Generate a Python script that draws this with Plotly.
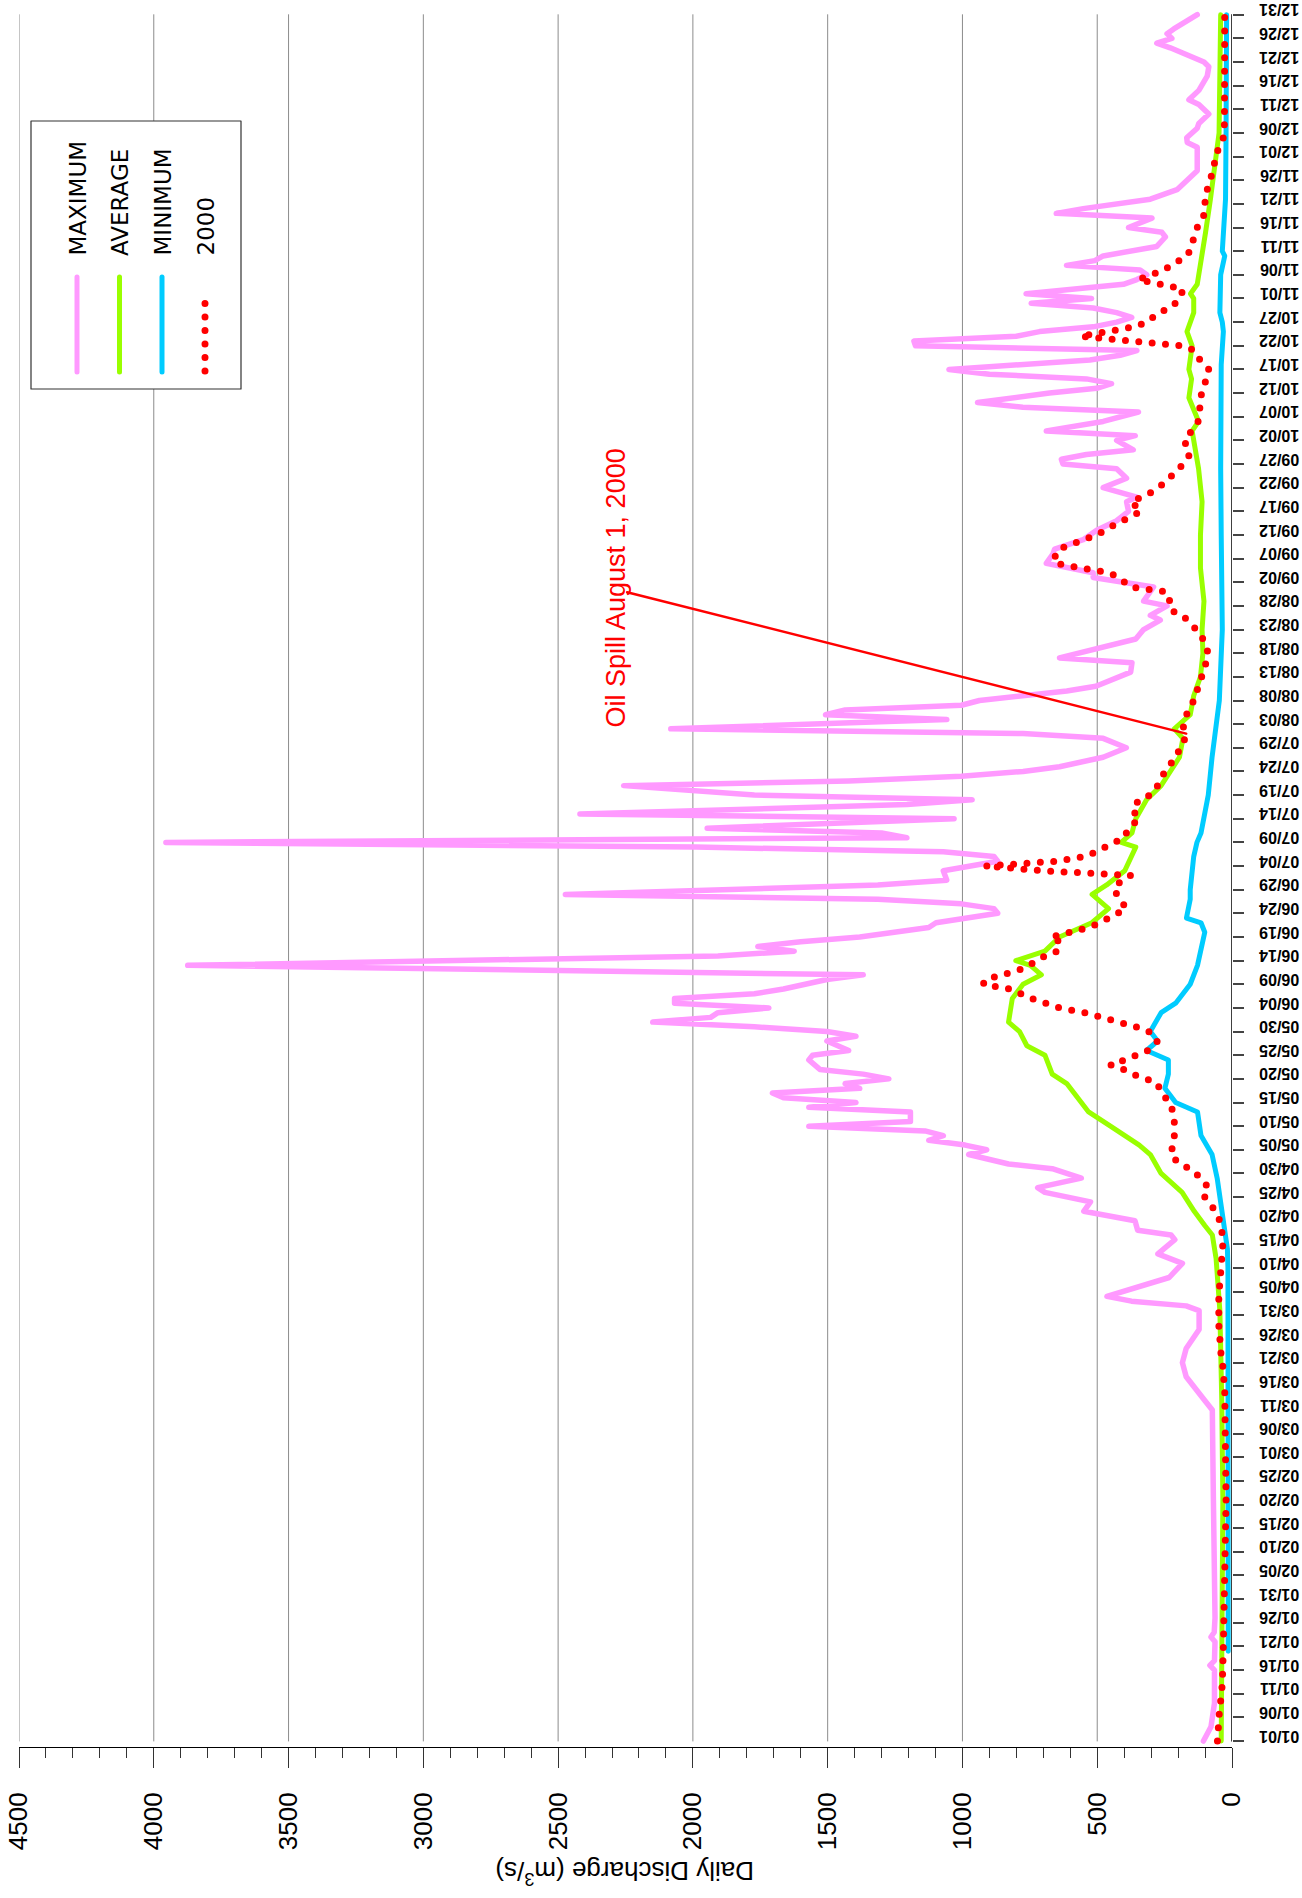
import pandas as pd
import plotly.graph_objects as go

START = pd.Timestamp("2000-01-01")  # 2000 is a leap year: day 0 = Jan 1, day 365 = Dec 31

# Daily discharge (m3/s), keyed by day of year
max_day = [0, 3, 8, 15, 16, 17, 21, 22, 23, 26, 51, 70, 72, 77, 80, 83, 87, 91, 92, 93,
           94, 96, 98, 101, 103, 106, 107, 108, 110, 112, 114, 116, 117, 119, 121, 122, 124, 125, 126, 127,
           128, 129, 130, 131, 133, 134, 135, 136, 137, 138, 139, 140, 141, 142, 144, 145, 146, 148, 149, 150,
           151, 152, 153, 154, 155, 156, 157, 158, 159, 161, 162, 164, 166, 167, 168, 169, 170, 172, 173, 175,
           176, 177, 178, 179, 181, 182, 184, 186, 187, 188, 189, 190, 191, 192, 193, 195, 196, 198, 199, 200,
           201, 202, 203, 204, 205, 206, 208, 210, 212, 213, 214, 216, 217, 218, 219, 220, 222, 223, 226, 228,
           229, 231, 233, 235, 237, 238, 240, 241, 244, 245, 246, 247, 248, 249, 251, 252, 254, 256, 258, 260,
           262, 263, 265, 266, 267, 269, 270, 271, 272, 273, 275, 276, 277, 279, 281, 282, 283, 285, 286, 287,
           288, 289, 290, 292, 293, 294, 295, 296, 297, 298, 299, 300, 301, 302, 303, 304, 305, 306, 308, 309,
           310, 311, 312, 313, 314, 316, 318, 319, 320, 322, 323, 324, 325, 326, 328, 331, 332, 337, 338, 339,
           341, 342, 344, 346, 347, 349, 352, 354, 355, 358, 359, 360, 361, 362, 364, 365]
max_q = [106, 78, 65, 65, 82, 65, 63, 78, 66, 63, 69, 73, 101, 170, 184, 170, 122, 122, 170, 373,
         464, 345, 233, 184, 275, 212, 226, 350, 360, 550, 525, 694, 721, 559, 667, 829, 977, 910, 990, 1125,
         1071, 1139, 1570, 1193, 1193, 1570, 1395, 1664, 1705, 1381, 1435, 1273, 1368, 1529, 1570, 1556, 1422, 1503, 1395, 1503,
         1772, 2149, 1934, 1907, 1718, 2068, 2068, 1772, 1664, 1503, 1368, 3874, 1907, 1624, 1759, 1600, 1381, 1125, 1098, 869,
         883, 1004, 1314, 2473, 1314, 1058, 1071, 869, 883, 1071, 1988, 3955, 1206, 1300, 1947, 1031, 2419, 1206, 964, 1772,
         2001, 2257, 1422, 1004, 775, 640, 478, 392, 478, 775, 2082, 1058, 1508, 1435, 1004, 937, 613, 505, 376, 371,
         640, 505, 357, 328, 266, 303, 241, 328, 291, 403, 515, 515, 614, 689, 664, 658, 552, 502, 428, 384,
         391, 353, 478, 434, 391, 428, 627, 633, 540, 366, 428, 359, 689, 478, 347, 776, 944, 677, 502, 447,
         540, 900, 1050, 527, 415, 353, 1174, 1180, 801, 714, 515, 428, 372, 428, 515, 745, 521, 764, 403, 353,
         316, 341, 614, 509, 478, 279, 247, 260, 384, 297, 652, 552, 420, 303, 204, 148, 129, 129, 166, 168,
         129, 123, 86, 123, 160, 123, 92, 86, 104, 229, 279, 223, 241, 216, 154, 129]

avg_day = [0, 25, 51, 72, 91, 102, 107, 109, 112, 116, 120, 124, 126, 130, 133, 137, 139, 141, 145, 147,
           150, 152, 157, 160, 162, 164, 165, 167, 170, 173, 175, 176, 179, 181, 184, 189, 190, 192, 195, 199,
           202, 208, 212, 214, 217, 221, 225, 230, 235, 241, 248, 255, 262, 269, 277, 279, 284, 288, 290, 295,
           298, 302, 305, 306, 308, 312, 319, 326, 334, 340, 365]
avg_q = [40, 36, 34, 38, 45, 59, 73, 101, 140, 185, 263, 303, 344, 451, 532, 586, 613, 667, 694, 761,
         788, 829, 815, 775, 707, 748, 802, 694, 640, 520, 480, 458, 519, 465, 398, 357, 411, 371, 357, 317,
         263, 195, 182, 214, 155, 142, 117, 108, 111, 104, 117, 117, 111, 124, 148, 124, 160, 150, 160, 148,
         167, 142, 142, 154, 129, 117, 98, 80, 61, 48, 42]

min_day = [19, 60, 86, 100, 104, 108, 110, 114, 119, 124, 128, 133, 135, 138, 141, 144, 146, 148, 150, 154,
           156, 160, 164, 171, 173, 174, 178, 180, 184, 187, 190, 192, 200, 208, 220, 235, 255, 269, 291, 298,
           300, 302, 310, 314, 315, 326, 340, 365]
min_q = [14, 13, 13, 15, 17, 26, 31, 40, 55, 74, 115, 128, 209, 249, 236, 236, 317, 276, 303, 263,
         209, 155, 128, 101, 115, 169, 155, 155, 150, 142, 130, 115, 88, 74, 47, 36, 40, 42, 40, 32,
         36, 45, 42, 27, 36, 24, 22, 20]

y2000_day = [0, 3, 6, 9, 12, 20, 31, 51, 74, 77, 80, 82, 85, 88, 94, 96, 99, 102, 105, 108,
             110, 113, 115, 117, 119, 121, 122, 124, 127, 132, 135, 137, 139, 140, 141, 142, 143, 144, 145, 146,
             148, 150, 151, 152, 153, 154, 155, 156, 157, 159, 160, 161, 162, 163, 165, 166, 167, 169, 170, 171,
             172, 173, 175, 176, 178, 180, 182, 183, 184, 185, 186, 187, 188, 189, 190, 191, 193, 195, 197, 199,
             200, 202, 205, 207, 210, 212, 214, 217, 220, 224, 227, 230, 234, 236, 238, 239, 241, 243, 244, 246,
             247, 248, 249, 250, 252, 253, 254, 255, 257, 259, 260, 262, 263, 264, 266, 268, 270, 272, 275, 277,
             279, 282, 285, 288, 290, 292, 294, 295, 297, 298, 299, 300, 302, 303, 305, 307, 309, 311, 313, 314,
             316, 318, 320, 323, 325, 328, 331, 334, 336, 339, 342, 365]
y2000_q = [54, 53, 47, 41, 36, 32, 30, 22, 27, 29, 35, 41, 45, 49, 49, 46, 42, 38, 34, 38,
           45, 73, 101, 88, 115, 155, 195, 228, 214, 214, 230, 263, 276, 317, 371, 403, 451, 398, 357, 311,
           276, 309, 357, 420, 500, 546, 640, 700, 745, 823, 923, 915, 840, 790, 720, 694, 646, 640, 672, 590,
           532, 490, 420, 392, 416, 438, 411, 376, 700, 915, 654, 546, 505, 465, 425, 400, 384, 344, 371, 344,
           303, 276, 249, 222, 190, 174, 182, 169, 142, 115, 101, 88, 115, 150, 183, 226, 231, 243, 378, 419,
           456, 556, 657, 660, 643, 597, 549, 502, 440, 374, 337, 374, 333, 300, 250, 213, 180, 157, 177, 150,
           126, 119, 113, 95, 86, 119, 139, 183, 562, 463, 363, 316, 272, 229, 192, 182, 347, 254, 200, 167,
           148, 142, 129, 101, 101, 92, 76, 63, 55, 32, 28, 27]

series_names = ["MAXIMUM", "AVERAGE", "MINIMUM", "2000"]
series_colors = ["#ff99ff", "#99ff00", "#00ccff", "#ff0000"]

# Oil spill marker: Aug 1, 2000
spill_day = 213
spill_q = 170
spill_label = "Oil Spill August 1, 2000"


def to_dates(days):
    return [START + pd.Timedelta(days=float(d)) for d in days]


fig = go.Figure()
series = [(max_day, max_q), (avg_day, avg_q), (min_day, min_q), (y2000_day, y2000_q)]
widths = [5.5, 5, 5, 7]
for (days, vals), name, color, w in zip(series, series_names, series_colors, widths):
    dash = "0px,13.4px" if name == "2000" else "solid"
    fig.add_trace(go.Scatter(
        x=vals, y=to_dates(days), mode="lines", name=name,
        line=dict(color=color, width=w, dash=dash),
        hoverinfo="skip",
    ))

W, H = 1302, 1898
ML, MR, MT, MB = 19, 70, 0, 151
plot_w = W - ML - MR
plot_h = H - MT - MB


def px_x(px):
    return (px - ML) / plot_w


def px_y(py):
    return (H - MB - py) / plot_h


shapes = []
day0 = START
day365 = START + pd.Timedelta(days=365)
# vertical grid lines every 500 m3/s
for v in range(500, 4501, 500):
    shapes.append(dict(type="line", xref="x", yref="y", x0=v, x1=v, y0=day0, y1=day365,
                       line=dict(color="#8c8c8c", width=1), layer="below"))
# date axis line at zero discharge
shapes.append(dict(type="line", xref="x", yref="y", x0=0, x1=0, y0=day0, y1=day365,
                   line=dict(color="#000000", width=1.5)))
# pointer from the label to the spill date
shapes.append(dict(type="line", xref="x", yref="y", x0=2244, y0=START + pd.Timedelta(days=242.9),
                   x1=spill_q, y1=START + pd.Timedelta(days=spill_day),
                   line=dict(color="#ff0000", width=2.5)))

# legend box
shapes.append(dict(type="rect", xref="paper", yref="paper",
                   x0=px_x(31), x1=px_x(241), y0=px_y(389), y1=px_y(121),
                   fillcolor="white", line=dict(color="#333333", width=1.2), layer="above"))
leg_x = [77, 119.5, 162, 205]
annotations = []
for name, color, lx in zip(series_names, series_colors, leg_x):
    if name == "2000":
        shapes.append(dict(type="line", xref="paper", yref="paper",
                           x0=px_x(lx), x1=px_x(lx), y0=px_y(371), y1=px_y(290),
                           line=dict(color=color, width=7, dash="0px,13.5px"), layer="above"))
    else:
        shapes.append(dict(type="line", xref="paper", yref="paper",
                           x0=px_x(lx), x1=px_x(lx), y0=px_y(372), y1=px_y(277),
                           line=dict(color=color, width=5), layer="above"))
    annotations.append(dict(text=name, xref="paper", yref="paper", x=px_x(lx), y=px_y(258),
                            xanchor="center", yanchor="bottom", textangle=-90, showarrow=False,
                            font=dict(family="DejaVu Sans", size=23, color="black")))

annotations.append(dict(text=spill_label, xref="paper", yref="paper", x=px_x(615), y=px_y(588.5),
                        xanchor="center", yanchor="middle", textangle=-90, showarrow=False,
                        font=dict(family="Arial, Liberation Sans", size=27, color="#ff0000")))
annotations.append(dict(text="Daily Discharge (m<sup>3</sup>/s)", xref="paper", yref="paper",
                        x=px_x(625), y=px_y(1873), xanchor="center", yanchor="middle",
                        textangle=180, showarrow=False,
                        font=dict(family="Arial, Liberation Sans", size=26, color="black")))

fig.update_layout(
    width=W, height=H,
    margin=dict(l=ML, r=MR, t=MT, b=MB, pad=0),
    paper_bgcolor="white", plot_bgcolor="white",
    showlegend=False,
    shapes=shapes, annotations=annotations,
    xaxis=dict(
        range=[4500, 0], showgrid=False, zeroline=False,
        showline=True, linecolor="black", linewidth=1,
        tick0=0, dtick=500, ticks="outside", ticklen=20, tickcolor="#333333", tickwidth=1,
        minor=dict(dtick=100, tick0=0, ticks="outside", ticklen=10, tickcolor="#333333",
                   tickwidth=1, showgrid=False),
        tickangle=-90, ticklabelstandoff=14,
        tickfont=dict(family="Arial, Liberation Sans", size=26, color="black"),
    ),
    yaxis=dict(
        type="date", side="right",
        range=[START + pd.Timedelta(days=-1.269), START + pd.Timedelta(days=368.11)],
        tick0="2000-01-01", dtick=5 * 86400000, tickformat="%m/%d",
        showgrid=False, zeroline=False, showline=False,
        ticks="outside", ticklen=11, tickcolor="#444444", tickwidth=1.5,
        tickangle=180, ticklabelstandoff=52,
        tickfont=dict(family="Arial, Liberation Sans", size=16, color="black", weight="bold"),
    ),
)

post = """
var gd = document.getElementById('{plot_id}');
function roundCaps() {
  gd.querySelectorAll('path.js-line, .shapelayer path').forEach(function (p) {
    p.style.strokeLinecap = 'round';
    p.style.strokeLinejoin = 'round';
  });
}
roundCaps();
gd.on('plotly_afterplot', roundCaps);
"""

fig.write_html("out.html", post_script=post, config={"displayModeBar": False})
